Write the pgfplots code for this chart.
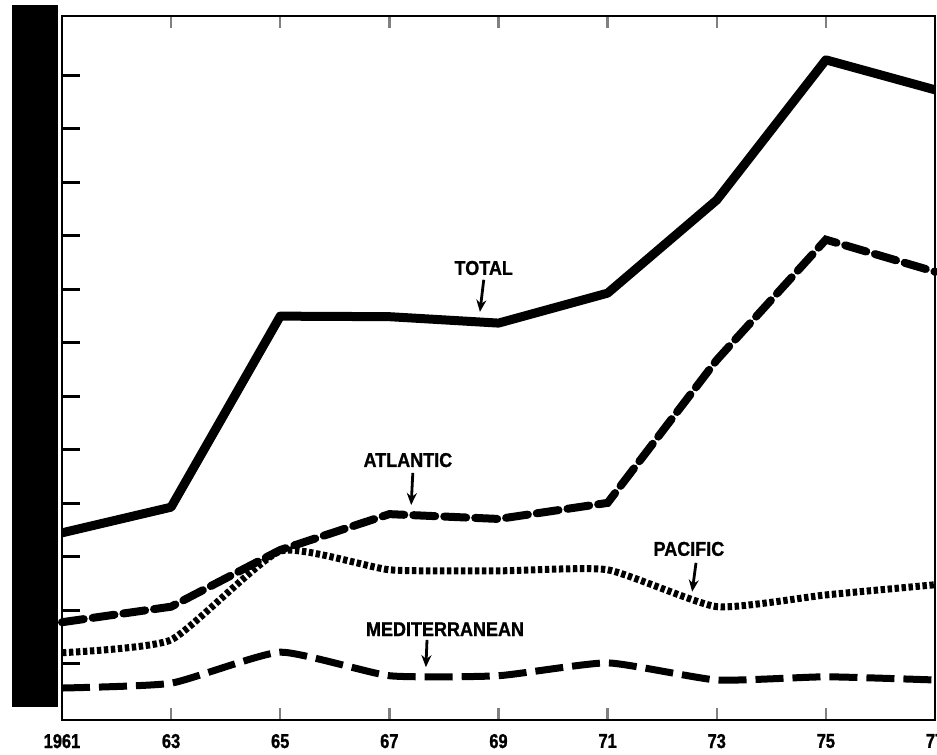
\documentclass[border=0pt]{standalone}
\usepackage{fontspec}
\setmainfont{Liberation Sans}
\newfontfamily\tickfont{Liberation Sans}[FakeStretch=0.82, FakeBold=1.2]
\newfontfamily\labfont{Liberation Sans}[FakeStretch=0.9, FakeBold=1]
\usepackage{pgfplots}
\pgfplotsset{compat=1.18}
\usetikzlibrary{arrows.meta}

\newcommand\tl[1]{\mbox{\tickfont\bfseries\fontsize{10}{11}\selectfont #1}}
\newcommand\lab[1]{\labfont\bfseries\fontsize{10}{11}\selectfont #1}

\begin{document}
\begin{tikzpicture}
\begin{axis}[
  scale only axis,
  width=436.5pt, height=352pt,
  xmin=1961, xmax=1977,
  ymin=-0.187, ymax=12.97,
  xtick={1961,1963,...,1977},
  xticklabels={\tl{1961},\tl{63},\tl{65},\tl{67},\tl{69},\tl{71},\tl{73},\tl{75},\tl{77}},
  xticklabel style={anchor=north, yshift=-3.5pt},
  ytick=\empty,
  tick align=inside,
  major tick length=6pt,
  x tick style={line width=1.2pt},
  axis line style={line width=1.4pt},
  clip=false,
]
% blacked-out strip at the left
\fill[black] (rel axis cs:-0.0573,0.0185) rectangle (rel axis cs:-0.0046,1.0156);
% long inward ticks on the left edge
\pgfplotsinvokeforeach{0.0796,0.1556,0.2316,0.3076,0.3836,0.4596,0.5356,0.6116,0.6876,0.7636,0.8396,0.9156}{
  \draw[line width=1.5pt] (rel axis cs:0,#1) -- (rel axis cs:0.0206,#1);
}

% TOTAL
\addplot[black, line width=4.5pt, line join=round] coordinates {
(1961,3.31) (1963,3.79) (1965,7.36) (1967,7.35) (1969,7.23)
(1971,7.79) (1973,9.53) (1975,12.15) (1977,11.59)};
% ATLANTIC
\addplot[black, line width=4pt, dash pattern=on 11pt off 4.5pt, line cap=round] coordinates {
(1961,1.64) (1963,1.93) (1965,2.99) (1967,3.66) (1969,3.57)
(1971,3.87) (1973,6.54) (1975,8.79) (1977,8.19)};
% PACIFIC
\addplot[black, line width=3.5pt, dash pattern=on 2.2pt off 1.3pt, smooth, tension=0.3] coordinates {
(1961,1.07) (1963,1.31) (1965,2.97) (1967,2.62) (1969,2.60)
(1971,2.62) (1973,1.93) (1975,2.15) (1977,2.34)};
% MEDITERRANEAN
\addplot[black, line width=3.5pt, dash pattern=on 14pt off 4.5pt, smooth, tension=0.3] coordinates {
(1961,0.41) (1963,0.50) (1965,1.08) (1967,0.64) (1969,0.64)
(1971,0.88) (1973,0.56) (1975,0.62) (1977,0.56)};

% labels with arrows
\node at (axis cs:1968.73,8.26) {\lab{TOTAL}};
\draw[line width=1.4pt, -{Stealth[length=6pt,width=5pt]}] (axis cs:1968.73,8.04) -- (axis cs:1968.66,7.44);
\node at (axis cs:1967.34,4.67) {\lab{ATLANTIC}};
\draw[line width=1.4pt, -{Stealth[length=6pt,width=5pt]}] (axis cs:1967.43,4.43) -- (axis cs:1967.40,3.83);
\node at (axis cs:1972.49,3.01) {\lab{PACIFIC}};
\draw[line width=1.4pt, -{Stealth[length=6pt,width=5pt]}] (axis cs:1972.62,2.75) -- (axis cs:1972.55,2.21);
\node at (axis cs:1968.02,1.51) {\lab{MEDITERRANEAN}};
\draw[line width=1.4pt, -{Stealth[length=6pt,width=5pt]}] (axis cs:1967.69,1.31) -- (axis cs:1967.67,0.80);

\coordinate (bbl) at (rel axis cs:-0.0710,-0.0497);
\coordinate (bbr) at (rel axis cs:1.0023,1.0227);
\end{axis}
\pgfresetboundingbox
\path (bbl) rectangle (bbr);
\end{tikzpicture}
\end{document}
